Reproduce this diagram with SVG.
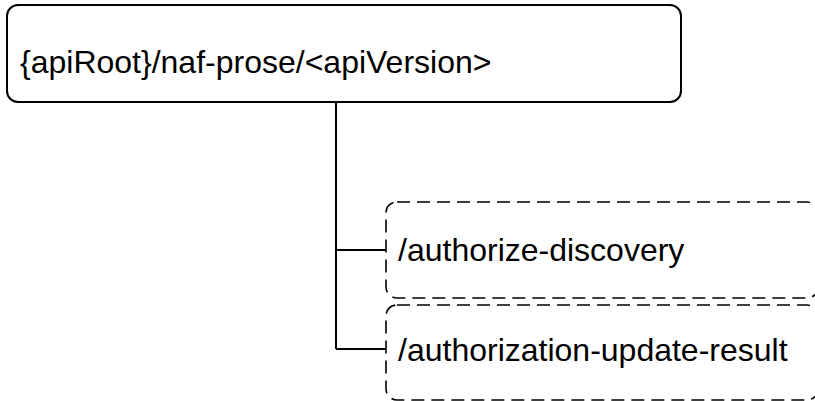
<svg xmlns="http://www.w3.org/2000/svg" width="815" height="401" viewBox="0 0 815 401">
<style>
.box{fill:#fff;stroke:#000;stroke-width:2}
.dash{fill:#fff;stroke:#000;stroke-width:1.6;stroke-dasharray:13,7}
.lbl{font-family:"Liberation Sans",Arial,sans-serif;font-size:32px;fill:#000}
.conn{fill:none;stroke:#000;stroke-width:2}
</style>
<rect width="815" height="401" fill="#fff"/>
<g id="connectors">
<path class="conn" d="M336,102 V349 M336,250 H386 M336,349 H386"/>
</g>
<g id="root">
<rect class="box" x="7" y="5" width="674" height="97" rx="11"/>
<text class="lbl" x="20" y="73">{apiRoot}/naf-prose/&lt;apiVersion&gt;</text>
</g>
<g id="authorize-discovery">
<rect class="dash" x="386" y="202" width="432" height="96" rx="11"/>
<text class="lbl" x="398" y="261">/authorize-discovery</text>
</g>
<g id="authorization-update-result">
<rect class="dash" x="386" y="305" width="432" height="95" rx="11"/>
<text class="lbl" x="398" y="361">/authorization-update-result</text>
</g>
</svg>
